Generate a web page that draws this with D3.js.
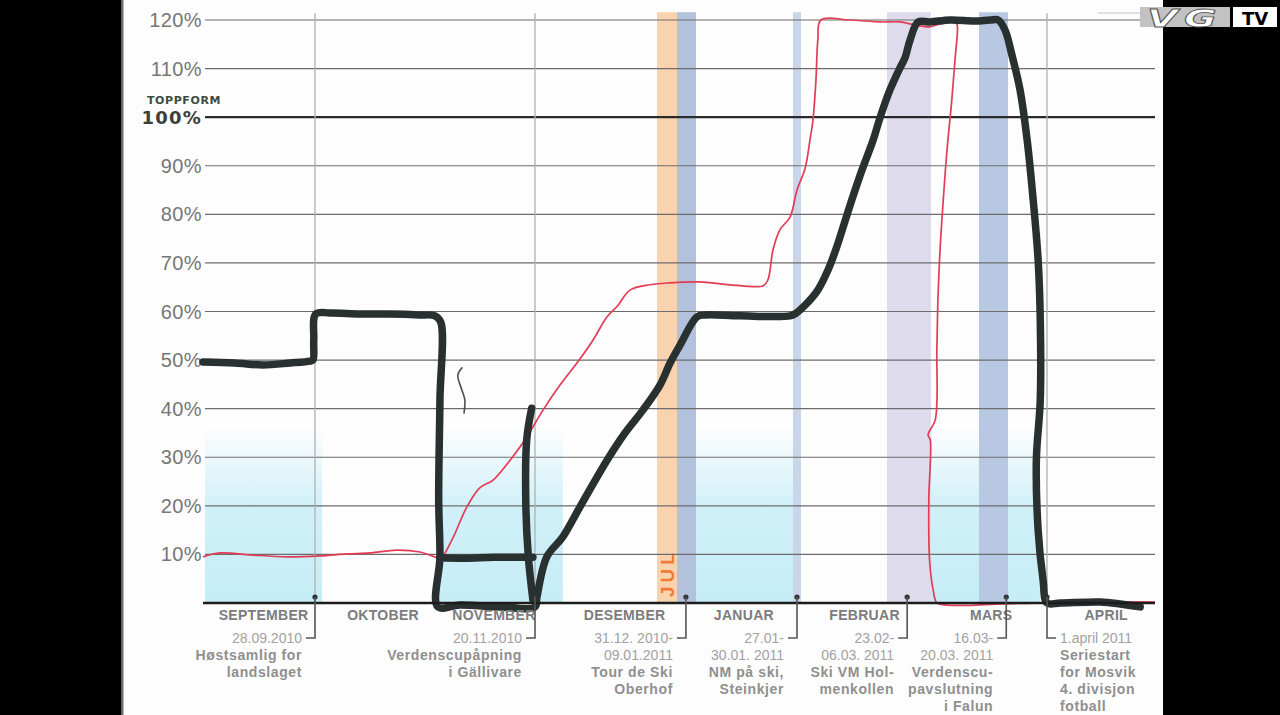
<!DOCTYPE html>
<html><head><meta charset="utf-8">
<script src="https://cdn.jsdelivr.net/npm/d3@7"></script>
<style>
html,body{margin:0;padding:0;background:#000;}
svg{display:block;}
</style></head><body>
<svg id="chart" width="1280" height="715"></svg>
<script>
// ---------------- DATA ----------------
// x values are days since 1 September 2010, y values are form in percent
const yTicks = [10, 20, 30, 40, 50, 60, 70, 80, 90, 100, 110, 120];
const peakTick = 100;
const peakLabel = "TOPPFORM";

const monthNames = ["SEPTEMBER", "OKTOBER", "NOVEMBER", "DESEMBER", "JANUAR", "FEBRUAR", "MARS", "APRIL"];
const monthLabelDays = [14.6, 43.4, 70.1, 103.5, 139.4, 169, 198.1, 226.8];

// milestone day -> drawing position anchors of the (not to scale) timeline
const xAnchorDays = [0, 27, 80, 112, 121, 131, 148, 152, 175, 187, 196, 201, 212, 239];

const eventDays = [27, 80, 125.7, 150, 180.5, 200.7, 212];
const eventDates = [["28.09.2010"], ["20.11.2010"], ["31.12. 2010-", "09.01.2011"], ["27.01-", "30.01. 2011"],
  ["23.02-", "06.03. 2011"], ["16.03-", "20.03. 2011"], ["1.april 2011"]];
const eventTitles = [["Høstsamlig for", "landslaget"], ["Verdenscupåpning", "i Gällivare"], ["Tour de Ski", "Oberhof"],
  ["NM på ski,", "Steinkjer"], ["Ski VM Hol-", "menkollen"], ["Verdenscu-", "pavslutning", "i Falun"],
  ["Seriestart", "for Mosvik", "4. divisjon", "fotball"]];

const periodNames = ["Jul", "Tour de Ski", "NM på ski", "Ski-VM", "Verdenscupfinale"];
const periodStart = [112, 121, 148, 175, 196];
const periodEnd = [121, 131, 152, 187, 201];
const julLabel = "JUL";

const restStart = [0.5, 57.1, 131, 187];
const restEnd = [28.7, 87.3, 148, 210];

const dividerDays = [27, 80, 212];

// thick black pen line (planned form)
const blackMain = [[0,49.6],[7.7,49.4],[14.5,49.0],[21,49.4],[25.8,49.8],[26.5,50],[26.7,54.1],[27.2,59.5],
  [30.6,59.7],[37.8,59.5],[45.1,59.5],[52.3,59.3],[55.9,59.1],[57.3,57.8],[57.1,41.8],[56.8,21.2],[57.1,9.5],
  [56.6,-0.8],[61.9,-0.4],[71.5,-0.8],[80,-0.8],[80.5,1.2],[83.1,9.5],[87.3,13.6],[91.8,19.8],[98.9,29.4],
  [103.6,35],[108.3,39.7],[113.4,44.9],[117.9,49.4],[122.6,53.1],[131.2,58.9],[132.6,59.3],[138.7,59.1],
  [147.5,59.1],[149,59.5],[153.1,61.3],[156.5,64.4],[159.2,68.5],[161.3,72.7],[163.2,77.2],[165.6,83.0],
  [168.3,89.1],[171.3,95.3],[173.1,99.8],[175.8,105.6],[178.5,110.1],[179.9,112.2],[181.3,115.9],[183.5,119.6],
  [186.7,119.6],[190.6,120],[195.3,119.8],[197.9,120],[199.3,120],[200.5,117.9],[202.1,112.8],[204.4,105.6],
  [206.4,95.3],[208.1,83.0],[209.5,70.6],[210.1,58.3],[210.1,41.8],[209,29.4],[209.5,15],[210.9,4.7],[212,0],
  [215.3,0],[225.3,0.2],[230.3,-0.2],[235.3,-0.8]];
const blackTenPct = [[57.1,9.3],[63,9.2],[70,9.4],[79.5,9.4]];
const blackNovStroke = [[79.2,40.1],[78.0,33.6],[77.8,19.8],[78.4,9.5],[79.5,0.6]];
const strayMark = [[62.4,48.4],[61.4,46.9],[62.4,43.8],[63.1,41.8],[62.9,39.1]];

// thin red pen line
const redLine = [[0,9.5],[4.1,10.3],[11.3,9.9],[20.3,9.5],[28.2,9.7],[34.7,10.1],[40.2,10.3],[46.7,10.9],
  [52.3,10.5],[55.2,9.7],[57.3,9.3],[60,13],[63.6,19.8],[66.7,23.7],[69.9,25.3],[74,29.4],[77.6,33.6],
  [82.1,39.7],[86.6,44.9],[91,49.4],[95.2,54.1],[98.9,58.9],[101.8,61.3],[104.9,64.4],[110.2,65.5],
  [117.9,65.9],[131.7,66.1],[137,65.5],[142.8,65.3],[143.6,66.5],[144.5,72.7],[145.7,76.8],[147.5,79.5],
  [150,85],[153.1,89.5],[154.4,95.3],[155.2,99.4],[156,107.7],[156.5,115.9],[157.3,120],[165.1,120],
  [173.1,119.6],[178.5,119.6],[182.6,119],[186.7,118.6],[188.7,119.2],[191.5,119.6],[191.9,119],
  [191.5,111.8],[190.9,103.5],[190,93.2],[189.3,83],[188.7,72.7],[188.3,62.4],[188.1,52.1],[187.8,37.7],
  [186.2,34.6],[186.8,33.6],[186.4,21.2],[186.6,8.9],[187.4,2.7],[188.1,0],[189.6,-0.4],[196.2,-0.4],
  [199.6,-0.2],[210,0],[225.3,0.2],[239,0.2]];

// ---------------- LAYOUT / STYLE ----------------
const W = 1280, H = 715;
const xAnchorPx = [203, 315, 535, 657, 677, 696, 793, 801, 887, 931, 979, 1008, 1047, 1155];
const plotLeft = 203, plotRight = 1155, gridLeft = 205;
const yBottom = 603, yTop = 20;
const periodColors = ["#f9d2ae", "#b3c2dc", "#c9d5e8", "#dedcec", "#b9c8e2"];
const blackPen = "#283030", redPen = "#e23c57";
const greyText = "#767676";

const svg = d3.select("#chart");
const x = d3.scaleLinear().domain(xAnchorDays).range(xAnchorPx);
const y = d3.scaleLinear().domain([0, 120]).range([yBottom, yTop]);

// page
svg.append("rect").attr("width", W).attr("height", H).attr("fill", "#000");
svg.append("rect").attr("x", 123).attr("y", 0).attr("width", 1040).attr("height", H).attr("fill", "#fdfdfd");
svg.append("rect").attr("x", 121).attr("y", 0).attr("width", 2.5).attr("height", H).attr("fill", "#6a6a6a");

// gradient for resting periods
const defs = svg.append("defs");
const grad = defs.append("linearGradient").attr("id", "restGrad").attr("x1", 0).attr("x2", 0).attr("y1", 0).attr("y2", 1);
grad.append("stop").attr("offset", "0%").attr("stop-color", "#c8eef7").attr("stop-opacity", 0);
grad.append("stop").attr("offset", "45%").attr("stop-color", "#c8eef7").attr("stop-opacity", 0.85);
grad.append("stop").attr("offset", "100%").attr("stop-color", "#c6edf6").attr("stop-opacity", 1);

svg.append("g").selectAll("rect").data(restStart).join("rect")
  .attr("x", (d) => x(d)).attr("width", (d, i) => x(restEnd[i]) - x(d))
  .attr("y", y(36)).attr("height", y(0) - y(36)).attr("fill", "url(#restGrad)");

// competition periods
svg.append("g").selectAll("rect").data(periodStart).join("rect")
  .attr("x", (d) => x(d)).attr("width", (d, i) => x(periodEnd[i]) - x(d))
  .attr("y", y(121.6)).attr("height", y(0) - y(121.6))
  .attr("fill", (d, i) => periodColors[i]);

// JUL label
const julX = (x(periodStart[0]) + x(periodEnd[0])) / 2;
svg.append("text").text(julLabel)
  .attr("transform", `translate(${julX + 7},${y(0) - 6}) rotate(-90)`)
  .attr("font-family", "Liberation Sans, Arial, sans-serif").attr("font-weight", "bold")
  .attr("font-size", 19).attr("letter-spacing", 4).attr("fill", "#f07b36");

// horizontal grid
svg.append("g").selectAll("line").data(yTicks).join("line")
  .attr("x1", gridLeft).attr("x2", plotRight)
  .attr("y1", (d) => y(d)).attr("y2", (d) => y(d))
  .attr("stroke", (d) => d === peakTick ? "#2a2a2a" : "#6c6c6c")
  .attr("stroke-width", (d) => d === peakTick ? 2.2 : 1.2);

// vertical dividers
svg.append("g").selectAll("line").data(dividerDays).join("line")
  .attr("x1", (d) => x(d)).attr("x2", (d) => x(d))
  .attr("y1", y(121.4)).attr("y2", y(0))
  .attr("stroke", "#b0b0b0").attr("stroke-width", 1.3);

// y labels
svg.append("g").selectAll("text").data(yTicks).join("text")
  .attr("x", plotLeft - 1).attr("y", (d) => y(d) + 7)
  .attr("text-anchor", "end")
  .attr("font-family", (d) => d === peakTick ? "DejaVu Sans, sans-serif" : "Liberation Sans, Arial, sans-serif")
  .attr("font-weight", (d) => d === peakTick ? "bold" : "normal")
  .attr("font-size", (d) => d === peakTick ? 18 : 20)
  .attr("letter-spacing", (d) => d === peakTick ? 1.2 : 0.4)
  .attr("fill", (d) => d === peakTick ? "#3a3f3a" : greyText)
  .text((d) => d + "%");
svg.append("text").text(peakLabel)
  .attr("x", 221).attr("y", y(peakTick) - 13).attr("text-anchor", "end")
  .attr("font-family", "DejaVu Sans, sans-serif").attr("font-weight", "bold")
  .attr("font-size", 11).attr("letter-spacing", 0.6).attr("fill", "#3e4c3e");

// lines
const line = d3.line().x((d) => x(d[0])).y((d) => y(d[1])).curve(d3.curveCatmullRom.alpha(0.5));
svg.append("path").datum(redLine).attr("d", line)
  .attr("fill", "none").attr("stroke", redPen).attr("stroke-width", 1.7).attr("stroke-linejoin", "round");
svg.append("path").datum(strayMark).attr("d", line)
  .attr("fill", "none").attr("stroke", "#4a5050").attr("stroke-width", 1.6).attr("stroke-linecap", "round");
[blackMain, blackTenPct, blackNovStroke].forEach((s) => {
  svg.append("path").datum(s).attr("d", line)
    .attr("fill", "none").attr("stroke", blackPen).attr("stroke-width", 7.5)
    .attr("stroke-linecap", "round").attr("stroke-linejoin", "round");
});

// baseline
svg.append("line").attr("x1", plotLeft).attr("x2", plotRight).attr("y1", y(0)).attr("y2", y(0))
  .attr("stroke", "#1c1c1c").attr("stroke-width", 2.4);

// month labels
svg.append("g").selectAll("text").data(monthNames).join("text")
  .attr("x", (d, i) => x(monthLabelDays[i])).attr("y", y(0) + 17)
  .attr("text-anchor", "middle")
  .attr("font-family", "Liberation Sans Narrow, Arial Narrow, Liberation Sans, sans-serif")
  .attr("font-weight", "bold").attr("font-size", 14).attr("letter-spacing", 0.3)
  .attr("fill", "#7c7c7c").text((d) => d);

// event markers
const ev = svg.append("g");
eventDays.forEach((d, i) => {
  const ex = x(d);
  const right = i === eventDays.length - 1;
  const cy = 638;
  ev.append("circle").attr("cx", ex).attr("cy", y(0) - 6).attr("r", 2.6).attr("fill", "#333");
  ev.append("path").attr("d", `M${ex},${y(0) - 6}V${cy}H${right ? ex + 9 : ex - 9}`)
    .attr("fill", "none").attr("stroke", "#555").attr("stroke-width", 1.6);
  const tx = right ? ex + 13 : ex - 13;
  const anchor = right ? "start" : "end";
  let baseY = 643;
  eventDates[i].forEach((t) => {
    ev.append("text").attr("x", tx).attr("y", baseY).attr("text-anchor", anchor)
      .attr("font-family", "Liberation Sans, Arial, sans-serif").attr("font-size", 14)
      .attr("fill", "#a2a2a2").text(t);
    baseY += 17;
  });
  eventTitles[i].forEach((t) => {
    ev.append("text").attr("x", tx).attr("y", baseY).attr("text-anchor", anchor)
      .attr("font-family", "Liberation Sans, Arial, sans-serif").attr("font-size", 14)
      .attr("font-weight", "bold").attr("letter-spacing", 0.6)
      .attr("fill", "#8f8f8f").text(t);
    baseY += 17;
  });
});

// VG TV logo
svg.append("rect").attr("x", 1163).attr("y", 0).attr("width", W - 1163).attr("height", H).attr("fill", "#000");
svg.append("line").attr("x1", 1098).attr("x2", 1140).attr("y1", 13).attr("y2", 13).attr("stroke", "#c4c4c4");
svg.append("rect").attr("x", 1140).attr("y", 7).attr("width", 90).attr("height", 20).attr("fill", "#c2c2c2");
svg.append("text").text("VG").attr("x", 1185).attr("y", 26.5).attr("text-anchor", "middle")
  .attr("font-family", "DejaVu Sans, sans-serif").attr("font-weight", "bold").attr("font-style", "italic")
  .attr("font-size", 25).attr("letter-spacing", 4).attr("textLength", 76).attr("lengthAdjust", "spacingAndGlyphs")
  .attr("fill", "#fff").attr("stroke", "#555").attr("stroke-width", 0.8);
svg.append("rect").attr("x", 1233).attr("y", 7).attr("width", 44).attr("height", 20).attr("fill", "#fff");
svg.append("text").text("TV").attr("x", 1255).attr("y", 24.5).attr("text-anchor", "middle")
  .attr("font-family", "DejaVu Sans, sans-serif").attr("font-weight", "bold")
  .attr("font-size", 18).attr("fill", "#000");
</script>
</body></html>
